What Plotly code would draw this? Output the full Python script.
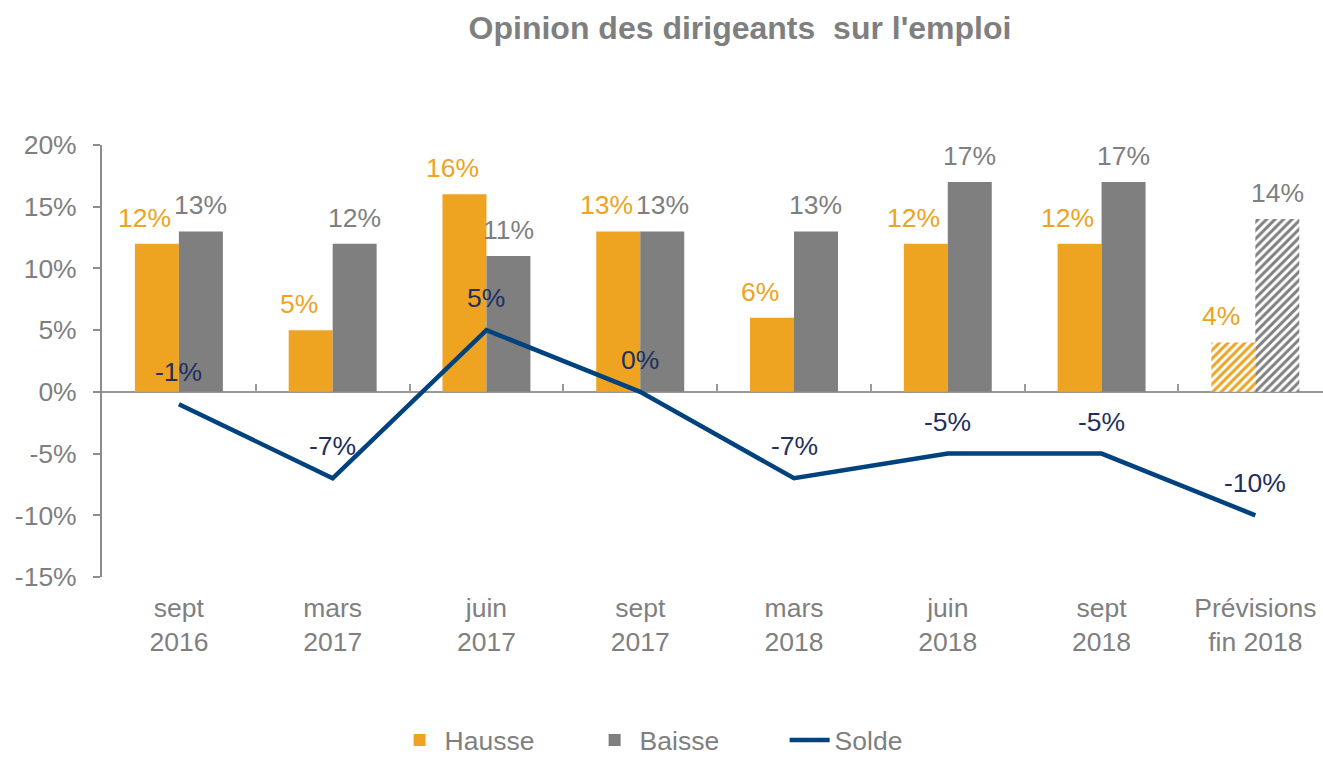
import plotly.graph_objects as go

categories = ["sept<br>2016", "mars<br>2017", "juin<br>2017", "sept<br>2017",
              "mars<br>2018", "juin<br>2018", "sept<br>2018", "Prévisions<br>fin 2018"]
hausse = [12, 5, 16, 13, 6, 12, 12, 4]
baisse = [13, 12, 11, 13, 13, 17, 17, 14]
solde = [-1, -7, 5, 0, -7, -5, -5, -10]
forecast = [False, False, False, False, False, False, False, True]
y_ticks = [-15, -10, -5, 0, 5, 10, 15, 20]

ORANGE = "#EEA321"
GREY = "#7F7F7F"
NAVY = "#00427E"
NAVY_TXT = "#1F2F5E"
TXT = "#7F7F7F"
FONT = "Liberation Sans, Arial, sans-serif"
FS = 26.5

x = list(range(len(categories)))
bw = 0.286
YMIN, YMAX = -15, 20

fig = go.Figure()
fig.add_trace(go.Bar(
    x=x, y=hausse, name="Hausse", width=bw, offset=-bw,
    marker=dict(color=ORANGE, line=dict(width=0),
                pattern=dict(shape=["/" if f else "" for f in forecast],
                             fgcolor=ORANGE, bgcolor="white", size=6, solidity=0.5,
                             fillmode="replace")),
    hoverinfo="skip"))
fig.add_trace(go.Bar(
    x=x, y=baisse, name="Baisse", width=bw, offset=0,
    marker=dict(color=GREY, line=dict(width=0),
                pattern=dict(shape=["/" if f else "" for f in forecast],
                             fgcolor=GREY, bgcolor="white", size=6, solidity=0.5,
                             fillmode="replace")),
    hoverinfo="skip"))
fig.add_trace(go.Scatter(
    x=x, y=solde, name="Solde", mode="lines",
    line=dict(color=NAVY, width=4.5), hoverinfo="skip"))
# invisible trace carrying the zero-line axis with boundary ticks
fig.add_trace(go.Scatter(x=[0], y=[0], xaxis="x2", mode="markers",
                         marker=dict(opacity=0), showlegend=False, hoverinfo="skip"))

ann = []
for i in x:
    ann.append(dict(x=i - bw / 2, y=hausse[i], text=f"{hausse[i]}%", showarrow=False,
                    yshift=26, xshift=-12, font=dict(color=ORANGE, size=FS, family=FONT)))
    ann.append(dict(x=i + bw / 2, y=baisse[i], text=f"{baisse[i]}%", showarrow=False,
                    yshift=26, font=dict(color=GREY, size=FS, family=FONT)))
    ann.append(dict(x=i, y=solde[i], text=f"{solde[i]}%", showarrow=False,
                    yshift=32, font=dict(color=NAVY_TXT, size=FS, family=FONT)))

xr = [-0.5, 7.44]
fig.update_layout(
    width=1323, height=759,
    margin=dict(l=102, r=0, t=145, b=182, autoexpand=False),
    paper_bgcolor="white", plot_bgcolor="white",
    font=dict(family=FONT, size=FS, color=TXT),
    title=dict(text="Opinion des dirigeants\u00a0 sur l'emploi", x=740 / 1323, xanchor="center",
               y=1 - 28 / 759, yanchor="middle", xref="container", yref="container",
               font=dict(size=32, color=TXT, family=FONT, weight="bold")),
    barmode="overlay",
    showlegend=True,
    legend=dict(orientation="h", x=634 / 1323, xanchor="center", y=-0.378, yanchor="middle",
                font=dict(size=26.5, color=TXT), traceorder="normal", itemwidth=40,
                entrywidth=140),
    xaxis=dict(range=xr, tickvals=x, ticktext=categories, showline=False, showgrid=False,
               zeroline=False, ticks="", ticklabelstandoff=12, automargin=False,
               tickfont=dict(size=FS, color=TXT)),
    xaxis2=dict(range=xr, overlaying="x", anchor="free",
                position=(0 - YMIN) / (YMAX - YMIN), showline=True, linecolor="#999999",
                linewidth=2, ticks="inside", ticklen=7, tickwidth=2, tickcolor="#999999",
                tickvals=[i + 0.5 for i in x[:-1]], showticklabels=False, showgrid=False,
                zeroline=False, layer="below traces", automargin=False),
    yaxis=dict(range=[YMIN, YMAX], tickvals=y_ticks, ticktext=[f"{v}%" for v in y_ticks],
               showline=True, linecolor="#8C8C8C", linewidth=2, ticks="outside", ticklen=7,
               tickwidth=2, tickcolor="#8C8C8C", showgrid=False, zeroline=False,
               ticklabelstandoff=11, automargin=False, tickfont=dict(size=FS, color=TXT)),
    annotations=ann,
)

fig.write_html("out.html", config={"displayModeBar": False},
               post_script="document.body.style.margin='0';document.body.style.overflow='hidden';")
